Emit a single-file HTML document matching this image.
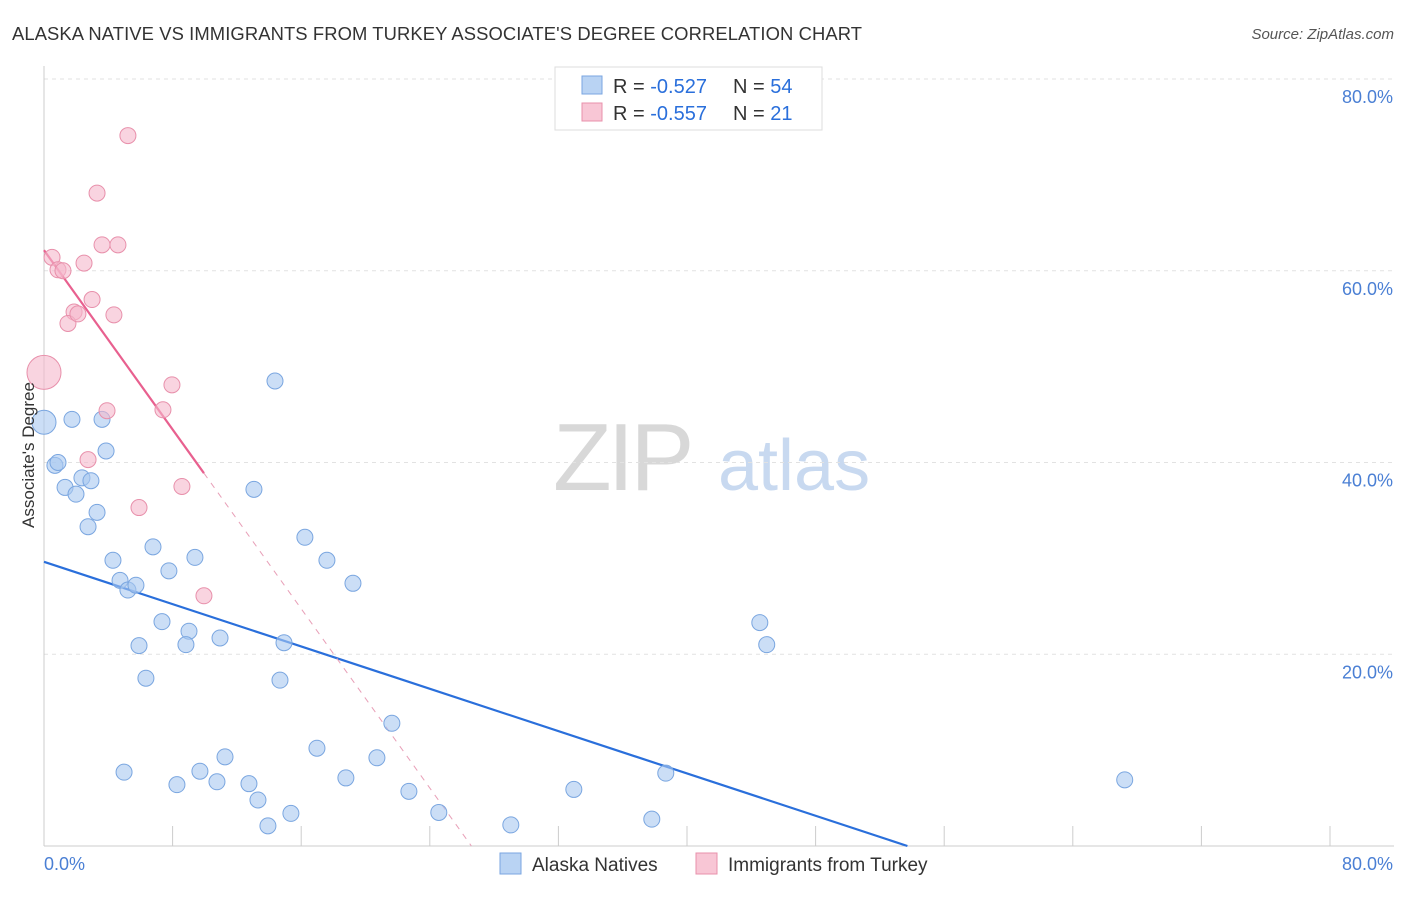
<!DOCTYPE html>
<html><head><meta charset="utf-8"><style>
body{margin:0;background:#fff;font-family:"Liberation Sans",sans-serif;}
svg text{font-family:"Liberation Sans",sans-serif;}
</style></head><body>
<svg id="chart" width="1406" height="892" viewBox="0 0 1406 892" xmlns="http://www.w3.org/2000/svg">
<text x="12" y="40" font-size="18.4" letter-spacing="0.1" fill="#333">ALASKA NATIVE VS IMMIGRANTS FROM TURKEY ASSOCIATE'S DEGREE CORRELATION CHART</text>
<text x="1394" y="39" font-size="15" fill="#555" text-anchor="end" font-style="italic">Source: ZipAtlas.com</text>
<g>
<text x="553" y="490" font-size="96" fill="#d8d8d8" font-family="Liberation Serif" letter-spacing="-4">ZIP</text>
<text x="718" y="490" font-size="72" fill="#c8d9f0">atlas</text>
</g>
<g id="grid"></g>
<g id="axes"></g>
<g id="lines"></g>
<g id="points"></g>
<text x="34" y="455" font-size="17" fill="#333" text-anchor="middle" transform="rotate(-90 34 455)">Associate's Degree</text>
<g>
<rect x="555" y="67" width="267" height="63" fill="#fff" stroke="#ddd"/>
<rect x="582" y="76" width="20" height="18" fill="#b9d3f3" stroke="#7aa6e0"/>
<text x="613" y="93" font-size="20" fill="#333">R = <tspan fill="#2a6fdb">-0.527</tspan></text>
<text x="733" y="93" font-size="20" fill="#333">N = <tspan fill="#2a6fdb">54</tspan></text>
<rect x="582" y="103" width="20" height="18" fill="#f8c6d5" stroke="#e890ab"/>
<text x="613" y="120" font-size="20" fill="#333">R = <tspan fill="#2a6fdb">-0.557</tspan></text>
<text x="733" y="120" font-size="20" fill="#333">N = <tspan fill="#2a6fdb"> 21</tspan></text>
</g>
<g>
<rect x="500" y="853" width="21" height="21" fill="#b9d3f3" stroke="#7aa6e0"/>
<text x="532" y="871" font-size="19" fill="#333">Alaska Natives</text>
<rect x="696" y="853" width="21" height="21" fill="#f8c6d5" stroke="#e890ab"/>
<text x="728" y="871" font-size="19" fill="#333">Immigrants from Turkey</text>
</g>
</svg>
<script>
const yTicks=[20,40,60,80];
const yTickLabels=["20.0%","40.0%","60.0%","80.0%"];
const xTicks=[0,8,16,24,32,40,48,56,64,72,80];
const xEndLabels=["0.0%","80.0%"];
const blueX=[0,1.74,3.61,0.68,0.87,1.31,1.99,2.36,2.92,3.86,3.30,2.74,4.29,4.73,5.22,5.72,6.78,7.77,9.39,7.34,9.02,8.83,10.95,5.91,6.34,14.37,13.06,16.23,17.60,19.22,14.93,14.68,4.98,8.27,9.70,10.76,11.26,12.75,13.31,13.93,15.36,16.98,18.78,20.71,21.64,22.70,24.56,29.04,32.96,37.81,38.68,44.53,44.96,67.23];
const blueY=[44.2,44.5,44.5,39.7,40.0,37.4,36.7,38.4,38.1,41.2,34.8,33.3,29.8,27.7,26.7,27.2,31.2,28.7,30.1,23.4,22.4,21.0,21.7,20.9,17.5,48.5,37.2,32.2,29.8,27.4,21.2,17.3,7.7,6.4,7.8,6.7,9.3,6.5,4.8,2.1,3.4,10.2,7.1,9.2,12.8,5.7,3.5,2.2,5.9,2.8,7.6,23.3,21.0,6.9];
const pinkX=[5.22,3.30,3.61,4.60,0.50,2.49,0.87,1.18,2.99,1.87,1.49,4.35,0,7.96,3.92,7.40,2.74,8.58,5.91,9.95,2.11];
const pinkY=[74.1,68.1,62.7,62.7,61.4,60.8,60.1,60.0,57.0,55.7,54.5,55.4,49.4,48.1,45.4,45.5,40.3,37.5,35.3,26.1,55.5];
const NS="http://www.w3.org/2000/svg";
const X0=44,X1=1330,Y0=846,Y80=79;
const sx=v=>X0+(X1-X0)*v/80;
const sy=v=>Y0-(Y0-Y80)*v/80;
function mk(tag,attrs,parent){const e=document.createElementNS(NS,tag);for(const k in attrs)e.setAttribute(k,attrs[k]);parent.appendChild(e);return e;}
const grid=document.getElementById('grid'),axes=document.getElementById('axes'),lines=document.getElementById('lines'),pts=document.getElementById('points');
yTicks.forEach((t,i)=>{
 const l=mk('line',{x1:X0,x2:1394,y1:sy(t),y2:sy(t),stroke:'#e2e2e2','stroke-dasharray':'4,4'},grid);
 
 
 const tx=mk('text',{x:1393,y:sy(t)+24,'font-size':18,fill:'#4a7fd4','text-anchor':'end'},axes);
 tx.textContent=yTickLabels[i];
 
 
});
const axl=mk('line',{x1:X0,x2:X0,y1:66,y2:Y0,stroke:'#ccc'},axes);


const bxl=mk('line',{x1:X0,x2:1394,y1:Y0,y2:Y0,stroke:'#ccc'},axes);


xTicks.forEach(t=>{
 const l=mk('line',{x1:sx(t),x2:sx(t),y1:826,y2:Y0,stroke:'#ccc'},axes);
 
 
});
[[0,'start',44],[80,'end',1393]].forEach((d,i)=>{
 const tx=mk('text',{x:d[2],y:870,'font-size':18,fill:'#4a7fd4','text-anchor':d[1]},axes);
 tx.textContent=xEndLabels[i];
 
 
});
function reg(xs,ys){const n=xs.length;let mx=0,my=0;for(let i=0;i<n;i++){mx+=xs[i];my+=ys[i];}mx/=n;my/=n;let sxy=0,sxx=0;for(let i=0;i<n;i++){sxy+=(xs[i]-mx)*(ys[i]-my);sxx+=(xs[i]-mx)**2;}const b=sxy/sxx;return [my-b*mx,b];}
const [ba,bb]=reg(blueX,blueY);
const bxEnd=Math.min(80,-ba/bb);
const bl=mk('line',{x1:sx(0),y1:sy(ba),x2:sx(bxEnd),y2:sy(ba+bb*bxEnd),stroke:'#2a6fdb','stroke-width':2.2},lines);


const [pa,pb]=reg(pinkX,pinkY);
const pmax=Math.max(...pinkX);
const pxEnd=Math.min(80,-pa/pb);
const pl=mk('line',{x1:sx(0),y1:sy(pa),x2:sx(pmax),y2:sy(pa+pb*pmax),stroke:'#e8608f','stroke-width':2.2},lines);


const pd=mk('line',{x1:sx(pmax),y1:sy(pa+pb*pmax),x2:sx(pxEnd),y2:sy(pa+pb*pxEnd),stroke:'#e8a0b8','stroke-width':1,'stroke-dasharray':'6,6'},lines);


blueX.forEach((v,i)=>{
 const c=mk('circle',{cx:sx(v),cy:sy(blueY[i]),r:i===0?12:8,fill:'#a9c8f0','fill-opacity':0.6,stroke:'#7aa6e0','stroke-width':1},pts);
 
 
});
pinkX.forEach((v,i)=>{
 const c=mk('circle',{cx:sx(v),cy:sy(pinkY[i]),r:i===12?17:8,fill:'#f5b8cb','fill-opacity':0.6,stroke:'#e890ab','stroke-width':1},pts);
 
 
});
</script>
</body></html>
